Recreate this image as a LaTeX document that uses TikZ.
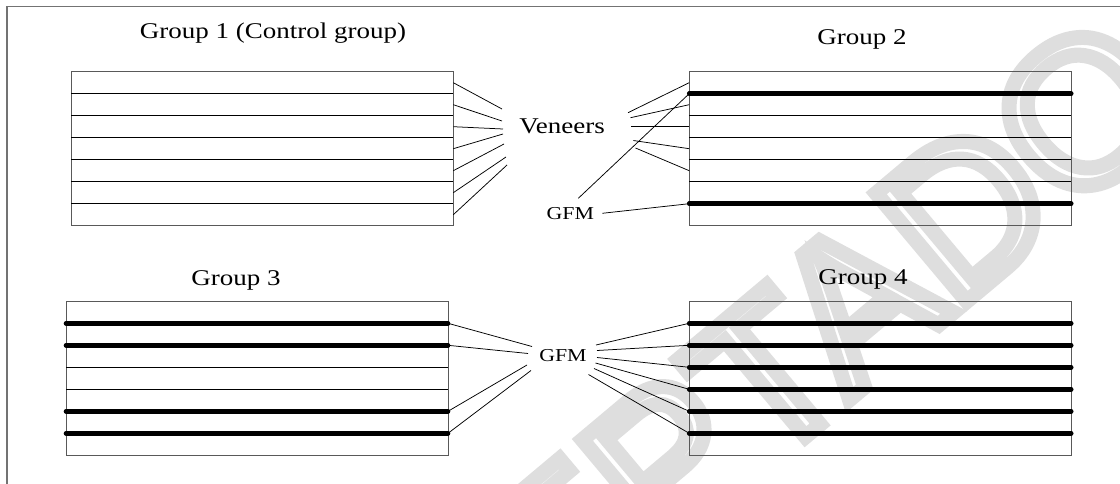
\documentclass[tikz,border=0pt]{standalone}
\usepackage{fontspec}
\setmainfont{Liberation Serif}[FakeStretch=1.2]
\newfontfamily\stampfont{Liberation Sans}
% hollow lettering: stroke the glyph outlines only
\newcommand\hollow[2]{\special{pdf:literal direct 1 Tr #1 w}#2\special{pdf:literal direct 0 Tr}}
\begin{document}
\begin{tikzpicture}[x=1pt,y=-1pt,
  frame/.style={draw=black!55,line width=1.1pt},
  shell/.style={draw=black!65,line width=1pt},
  ply/.style={draw=black,line width=0.8pt},
  fiber/.style={draw=black,line width=4.6pt,line cap=round},
  lead/.style={draw=black,line width=0.75pt},
  bigtxt/.style={inner sep=0pt,anchor=base,font=\fontsize{22.5}{26}\selectfont},
  smalltxt/.style={inner sep=0pt,anchor=base,font=\fontsize{18.2}{22}\selectfont},
  stamp/.style={inner sep=0pt,text=black!13,font=\stampfont\fontsize{205}{205}\selectfont}]
\useasboundingbox (0,0) rectangle (1120,484);

% grey stamp lettering behind everything
\node[stamp,rotate=40] (stampword) at (718,418) {\hollow{15}{ACEPTADO}};

% outer frame, open to the right and bottom
\draw[frame] (7,484) -- (7,6.5) -- (1120,6.5);

% the four plywood stacks: seven veneers of 22 each
\foreach \g/\x/\y in {g1/71.3/71.7, g2/689.2/71.7, g3/66/301.3, g4/689.2/301.3}{
  \draw[shell] (\x,\y) rectangle ++(382,154);
  \foreach \k in {1,...,6}{
    \draw[ply] (\x,{\y+22*\k}) -- ++(382,0);
    % ends of the glue lines between veneers
    \coordinate (\g bw\k) at (\x,{\y+22*\k});
    \coordinate (\g be\k) at ({\x+382},{\y+22*\k});
  }
  \foreach \k in {1,...,7}{
    % middle of each veneer, on both sides
    \coordinate (\g mw\k) at (\x,{\y+22*\k-11});
    \coordinate (\g me\k) at ({\x+382},{\y+22*\k-11});
  }
}

% glass fibre mesh layers
\draw[fiber] (g2bw1) -- (g2be1);
\draw[fiber] (g2bw6) -- (g2be6);
\foreach \k in {1,2,5,6} \draw[fiber] (g3bw\k) -- (g3be\k);
\foreach \k in {1,...,6} \draw[fiber] (g4bw\k) -- (g4be\k);

% titles
\node[bigtxt] (t1) at (273,38.3) {Group 1 (Control group)};
\node[bigtxt] (t2) at (862,45) {Group 2};
\node[bigtxt] (t3) at (236,285) {Group 3};
\node[bigtxt] (t4) at (863,284) {Group 4};

% labels
\node[bigtxt] (ven) at (562,134) {Veneers};
\node[smalltxt] (gfm2) at (570.3,219.3) {GFM};
\node[smalltxt] (gfm34) at (563,361.7) {GFM};

% leader ends next to the labels
\foreach \n/\px/\py in {1/502/109,2/502/121,3/503/129,4/503/134,5/504/144,6/506/157,7/507/165}
  \coordinate (va\n) at (\px,\py);
\foreach \n/\px/\py in {1/628/112.7,2/630.5/117.7,3/631/126.7,4/633.3/140.5,5/635.5/148}
  \coordinate (vb\n) at (\px,\py);
\coordinate (ga1) at (578.3,198.3);
\coordinate (ga2) at (602.3,213.3);
\foreach \n/\px/\py in {1/532/346.5,2/528/353.5,5/527/365,6/531/370.5}
  \coordinate (gc\n) at (\px,\py);
\foreach \n/\px/\py in {1/596/345,2/597/350.5,3/597/357.5,4/595.5/363,5/594/368.5,6/588.5/374.5}
  \coordinate (gd\n) at (\px,\py);

% leaders: veneers
\foreach \k in {1,...,7} \draw[lead] (g1me\k) -- (va\k);
\foreach \k in {1,...,5} \draw[lead] (vb\k) -- (g2mw\k);
% leaders: GFM
\draw[lead] (ga1) -- (g2bw1);
\draw[lead] (ga2) -- (g2bw6);
\foreach \k in {1,2,5,6} \draw[lead] (g3be\k) -- (gc\k);
\foreach \k in {1,...,6} \draw[lead] (gd\k) -- (g4bw\k);
\end{tikzpicture}
\end{document}
